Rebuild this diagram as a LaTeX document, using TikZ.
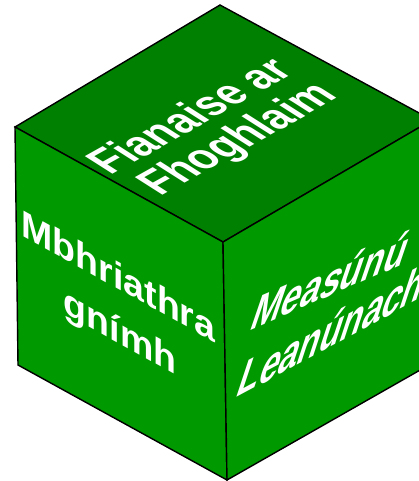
\documentclass[tikz,border=0pt]{standalone}
\usepackage{fontspec}
\setmainfont{Liberation Sans}
\definecolor{topg}{RGB}{0,128,0}
\definecolor{sideg}{RGB}{0,153,0}
\begin{document}
\begin{tikzpicture}[x=1pt,y=-1pt,
  face/.style={draw=black,line width=1.4pt,line join=miter},
  lbl/.style={text=white,inner sep=0pt,anchor=base}]
\useasboundingbox (0,0) rectangle (419,481);
\clip (0,0) rectangle (419,481);
\coordinate (T) at (220,5);
\coordinate (L) at (15,127);
\coordinate (C) at (223,242);
\coordinate (R) at (432,120);
\coordinate (BL) at (18,365);
\coordinate (B) at (227,480);
\coordinate (BR) at (436,361);
\draw[face,fill=topg] (T)--(R)--(C)--(L)--cycle;
\draw[face,fill=sideg] (L)--(C)--(B)--(BL)--cycle;
\draw[face,fill=sideg] (C)--(R)--(BR)--(B)--cycle;
% top face
\begin{scope}[shift={(203,124)}]
\node[lbl,cm={0.873,0.488,-0.99,0.63,(0,0)},font=\fontsize{40.5}{41}\selectfont\bfseries] (t1) at (0,0) {Fianaise ar};
\end{scope}
\begin{scope}[shift={(250,147)}]
\node[lbl,cm={0.873,0.488,-0.99,0.63,(0,0)},font=\fontsize{40.5}{41}\selectfont\bfseries] (t2) at (0,0) {Fhoghlaim};
\end{scope}
% left face
\begin{scope}[shift={(118.5,289)}]
\node[lbl,cm={1,-0.553,0,1,(0,0)},font=\fontsize{37.5}{38}\selectfont\bfseries] (l1) at (0,0) {Mbhriathra};
\end{scope}
\begin{scope}[shift={(120,344)}]
\node[lbl,cm={1,-0.553,0,1,(0,0)},font=\fontsize{37.5}{38}\selectfont\bfseries] (l2) at (0,0) {gnímh};
\end{scope}
% right face
\begin{scope}[shift={(325,298)}]
\node[lbl,cm={0.92,0.40,0.45,1.32,(0,0)},font=\fontsize{38.5}{39}\selectfont\bfseries] (r1) at (0,0) {Measúnú};
\end{scope}
\begin{scope}[shift={(327,349)}]
\node[lbl,cm={0.886,0.475,0.45,1.36,(0,0)},font=\fontsize{39.5}{40}\selectfont\bfseries] (r2) at (0,0) {Leanúnach};
\end{scope}
\end{tikzpicture}
\end{document}
